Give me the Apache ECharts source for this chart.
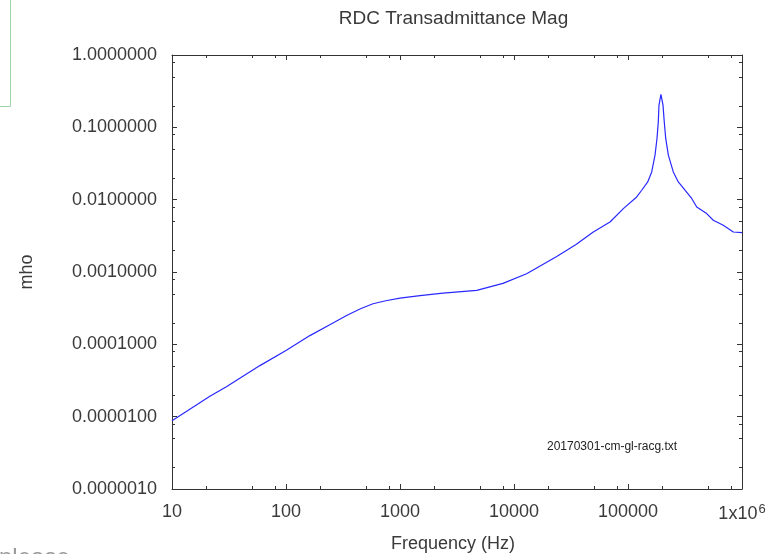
<!DOCTYPE html>
<html>
<head>
<meta charset="utf-8">
<script src="https://cdn.jsdelivr.net/npm/echarts@6/dist/echarts.min.js"></script>
<style>
  html, body { margin: 0; padding: 0; background: #fff; }
  #chart { width: 782px; height: 554px; }
</style>
</head>
<body>
<div id="chart"></div>
<script>
// Transadmittance magnitude sweep (log-log)
const chartTitle = 'RDC Transadmittance Mag';
const xAxisName = 'Frequency (Hz)';
const yAxisName = 'mho';
const fileTag = '20170301-cm-gl-racg.txt';

// Frequency (Hz)
const frequency = [
  10, 21.5, 30, 59, 100, 162, 240, 340, 450, 580, 750, 1000, 1500, 2380, 4710, 8000,
  12900, 23700, 35000, 49600, 69500, 91000,
  119200, 131900, 148900, 161400, 172600, 179600, 184400, 187000, 194500,
  202800, 208000, 214200, 225900, 249600, 276300, 316200, 362000,
  401000, 490000, 560000, 685000, 839000, 1000000
];
// Magnitude (mho)
const magnitude = [
  8.8e-6, 1.91e-5, 2.6e-5, 5.08e-5, 8.2e-5, 1.32e-4, 1.85e-4, 2.51e-4, 3.1e-4, 3.64e-4, 4.0e-4, 4.35e-4, 4.7e-4, 5.1e-4, 5.56e-4, 6.95e-4,
  9.47e-4, 1.64e-3, 2.4e-3, 3.57e-3, 4.91e-3, 7.53e-3,
  1.09e-2, 1.35e-2, 1.76e-2, 2.42e-2, 4.12e-2, 7.02e-2, 0.119, 0.203, 0.286,
  0.203, 0.119, 0.0702, 0.0412, 0.0242, 0.0176, 0.0135, 0.0104,
  7.92e-3, 6.42e-3, 5.19e-3, 4.42e-3, 3.57e-3, 3.5e-3
];

// Axis ranges and minor tick multipliers within each decade
const xRange = [10, 1000000];
const yRange = [0.000001, 1];
const minorMultipliers = [2, 5, 8];

const xMinor = [];
for (let d = 1; d < 6; d++) minorMultipliers.forEach(m => xMinor.push(m * Math.pow(10, d)));
const yMinor = [];
for (let e = -6; e < 0; e++) minorMultipliers.forEach(m => yMinor.push(m * Math.pow(10, e)));

const axisColor = '#333';
const textColor = '#3a3a3a';
const fontFamily = '"Liberation Sans", Arial, sans-serif';

function xLabel(v) {
  const r = Math.round(v);
  if (r >= 1000000) return '{b|1x10}{s|6}';
  return '{b|' + r + '}';
}

const chart = echarts.init(document.getElementById('chart'));
chart.setOption({
  animation: false,
  backgroundColor: '#fff',
  textStyle: { fontFamily: fontFamily },
  title: {
    text: chartTitle,
    left: 448.5,
    top: 4,
    textAlign: 'center',
    textStyle: { fontSize: 19, fontWeight: 'normal', color: textColor, fontFamily: fontFamily }
  },
  grid: { left: 172, right: 40, top: 55, bottom: 65, containLabel: false, outerBoundsMode: 'none' },
  xAxis: [
    {
      type: 'log', logBase: 10, min: xRange[0], max: xRange[1], position: 'bottom',
      name: xAxisName, nameLocation: 'middle', nameGap: 46,
      nameTextStyle: { fontSize: 18, color: textColor, fontFamily: fontFamily, padding: [0, 8, 0, 0] },
      axisLine: { show: true, lineStyle: { color: axisColor, width: 1 } },
      axisTick: { show: true, inside: true, length: 5, lineStyle: { color: axisColor } },
      splitLine: { show: false },
      minorTick: { show: false },
      axisLabel: {
        margin: 14, color: textColor, fontSize: 18, showMinLabel: true, showMaxLabel: true,
        hideOverlap: false,
        formatter: xLabel,
        rich: {
          b: { fontSize: 18, color: textColor, fontFamily: fontFamily },
          s: { fontSize: 13, color: textColor, fontFamily: fontFamily, padding: [0, 0, 10, 1] }
        }
      }
    },
    {
      type: 'log', logBase: 10, min: xRange[0], max: xRange[1], position: 'top',
      axisLine: { show: true, lineStyle: { color: axisColor, width: 1 } },
      axisTick: { show: true, inside: true, length: 5, lineStyle: { color: axisColor } },
      axisLabel: { show: false },
      splitLine: { show: false }
    }
  ],
  yAxis: [
    {
      type: 'log', logBase: 10, min: yRange[0], max: yRange[1], position: 'left',
      name: yAxisName, nameLocation: 'middle', nameGap: 136, nameRotate: 90,
      nameTextStyle: { fontSize: 18, color: textColor, fontFamily: fontFamily },
      axisLine: { show: true, lineStyle: { color: axisColor, width: 1 } },
      axisTick: { show: true, inside: true, length: 5, lineStyle: { color: axisColor } },
      splitLine: { show: false },
      axisLabel: {
        margin: 15, color: textColor, fontSize: 18, showMinLabel: true, showMaxLabel: true,
        formatter: v => v.toFixed(7)
      }
    },
    {
      type: 'log', logBase: 10, min: yRange[0], max: yRange[1], position: 'right',
      axisLine: { show: true, lineStyle: { color: axisColor, width: 1 } },
      axisTick: { show: true, inside: true, length: 5, lineStyle: { color: axisColor } },
      axisLabel: { show: false },
      splitLine: { show: false }
    }
  ],
  series: [
    {
      name: 'Transadmittance',
      type: 'line',
      xAxisIndex: 0, yAxisIndex: 0,
      data: frequency.map((f, i) => [f, magnitude[i]]),
      showSymbol: false,
      symbol: 'none',
      lineStyle: { color: '#2828ff', width: 1.2 },
      clip: true,
      silent: true
    },
    {
      // minor ticks on bottom and top axes
      type: 'custom',
      xAxisIndex: 0, yAxisIndex: 0,
      silent: true,
      clip: false,
      data: xMinor.map(v => [v, 0.001]),
      encode: { x: 0, y: 1 },
      renderItem: function (params, api) {
        const cs = params.coordSys;
        const p = api.coord([api.value(0), api.value(1)]);
        const x = Math.round(p[0]) + 0.5;
        const bottom = cs.y + cs.height;
        const style = { stroke: axisColor, lineWidth: 1 };
        return {
          type: 'group',
          children: [
            { type: 'line', shape: { x1: x, y1: bottom, x2: x, y2: bottom - 3 }, style: style },
            { type: 'line', shape: { x1: x, y1: cs.y, x2: x, y2: cs.y + 3 }, style: style }
          ]
        };
      }
    },
    {
      // minor ticks on left and right axes
      type: 'custom',
      xAxisIndex: 0, yAxisIndex: 0,
      silent: true,
      clip: false,
      data: yMinor.map(v => [1000, v]),
      encode: { x: 0, y: 1 },
      renderItem: function (params, api) {
        const cs = params.coordSys;
        const p = api.coord([api.value(0), api.value(1)]);
        const y = Math.round(p[1]) + 0.5;
        const right = cs.x + cs.width;
        const style = { stroke: axisColor, lineWidth: 1 };
        return {
          type: 'group',
          children: [
            { type: 'line', shape: { x1: cs.x, y1: y, x2: cs.x + 3, y2: y }, style: style },
            { type: 'line', shape: { x1: right, y1: y, x2: right - 3, y2: y }, style: style }
          ]
        };
      }
    }
  ],
  graphic: [
    {
      type: 'text',
      left: 547, top: 441,
      style: { text: fileTag, fontSize: 12, fill: '#222', fontFamily: fontFamily }
    },
    {
      type: 'rect',
      shape: { x: -6, y: -6, width: 16.5, height: 112.5 },
      style: { fill: 'none', stroke: '#9fd6a8', lineWidth: 1 }
    },
    {
      type: 'text',
      x: -1, y: 546,
      style: { text: 'please', fontSize: 24, fill: '#9a9a9a', fontFamily: fontFamily, verticalAlign: 'top' }
    }
  ]
});
</script>
</body>
</html>
